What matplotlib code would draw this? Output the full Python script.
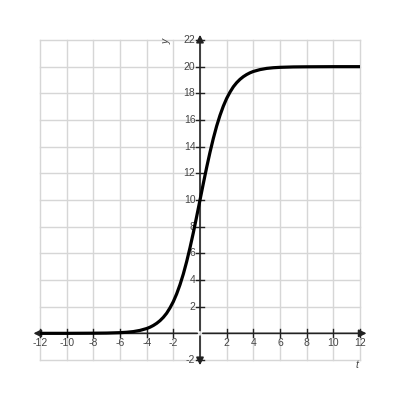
import matplotlib
matplotlib.use("Agg")
import matplotlib.pyplot as plt

# values
t_vals = [-12, -10, -8, -7, -6, -5.5, -5, -4.5, -4, -3.75, -3.5, -3.25, -3, -2.75, -2.5, -2.25,
          -2, -1.75, -1.5, -1.25, -1, -0.75, -0.5, -0.25, 0, 0.25, 0.5, 0.75, 1, 1.25, 1.5,
          1.75, 2, 2.25, 2.5, 2.75, 3, 3.25, 3.5, 3.75, 4, 4.5, 5, 5.5, 6, 7, 8, 10, 12]
y_vals = [0.0, 0.0, 0.01, 0.02, 0.05, 0.08, 0.13, 0.22, 0.36, 0.46, 0.59, 0.75, 0.95, 1.20,
          1.51, 1.91, 2.38, 2.96, 3.65, 4.45, 5.38, 6.42, 7.55, 8.76, 10.0, 11.24, 12.45,
          13.58, 14.62, 15.55, 16.35, 17.04, 17.62, 18.09, 18.49, 18.80, 19.05, 19.25, 19.41,
          19.54, 19.64, 19.78, 19.87, 19.92, 19.95, 19.98, 19.99, 20.0, 20.0]

x_ticks = [-12, -10, -8, -6, -4, -2, 2, 4, 6, 8, 10, 12]
y_ticks = [-2, 2, 4, 6, 8, 10, 12, 14, 16, 18, 20, 22]

plt.rcParams['font.family'] = ['Liberation Sans', 'DejaVu Sans']

fig = plt.figure(figsize=(4, 4), dpi=100)
ax = fig.add_axes([0, 0, 1, 1])
ax.set_xlim(-15, 15)
ax.set_ylim(-5, 25)
ax.axis('off')

grid_col = '#d6d6d6'
for gx in range(-12, 13, 2):
    ax.plot([gx, gx], [-2, 22], color=grid_col, lw=1.0, zorder=1)
for gy in range(-2, 23, 2):
    ax.plot([-12, 12], [gy, gy], color=grid_col, lw=1.0, zorder=1)

axis_col = '#222222'
# x axis with arrows both ends
ax.annotate('', xy=(12.7, 0), xytext=(0, 0),
            arrowprops=dict(arrowstyle='-|>', color=axis_col, lw=1.2, mutation_scale=11), zorder=3)
ax.annotate('', xy=(-12.7, 0), xytext=(0, 0),
            arrowprops=dict(arrowstyle='-|>', color=axis_col, lw=1.2, mutation_scale=11), zorder=3)
# y axis
ax.annotate('', xy=(0, 22.6), xytext=(0, 0),
            arrowprops=dict(arrowstyle='-|>', color=axis_col, lw=1.2, mutation_scale=11), zorder=3)
ax.annotate('', xy=(0, -2.6), xytext=(0, 0),
            arrowprops=dict(arrowstyle='-|>', color=axis_col, lw=1.2, mutation_scale=11), zorder=3)

lab_col = '#444444'
for xt in x_ticks:
    ax.plot([xt, xt], [-0.3, 0.3], color=axis_col, lw=1.0, zorder=3)
    ax.text(xt, -0.75, str(xt), ha='center', va='center', fontsize=7.5, color=lab_col)
for yt in y_ticks:
    ax.plot([-0.3, 0.3], [yt, yt], color=axis_col, lw=1.0, zorder=3)
    ax.text(-0.35, yt, str(yt), ha='right', va='center', fontsize=7.5, color=lab_col)

ax.text(-2.5, 21.9, 'y', ha='center', va='center', fontsize=7.5, color=lab_col,
        style='italic', rotation=90)
ax.text(11.8, -2.4, 't', ha='center', va='center', fontsize=7.5, color=lab_col,
        style='italic')

ax.plot(t_vals, y_vals, color='black', lw=2.3, zorder=4, solid_capstyle='butt')

fig.savefig('out.png', dpi=100)
